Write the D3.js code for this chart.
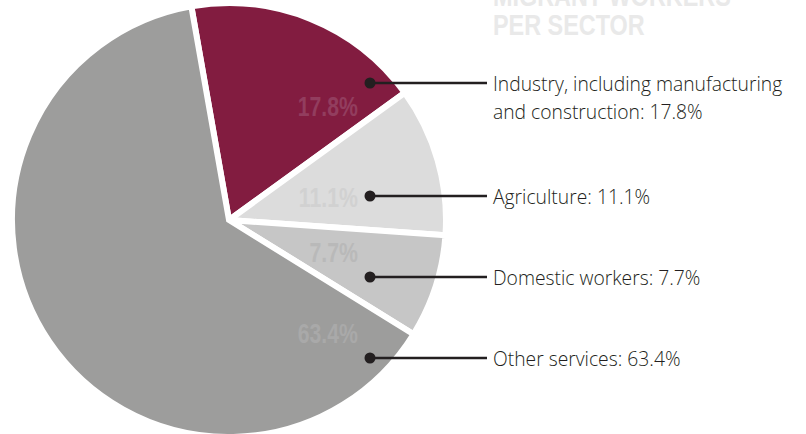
<!DOCTYPE html>
<html>
<head>
<meta charset="utf-8">
<script src="https://cdn.jsdelivr.net/npm/d3@7"></script>
<style>
  body { margin: 0; background: #fff; }
  svg { display: block; }
</style>
</head>
<body>
<div id="chart"></div>
<script>
// data
const sectors = ["Industry, including manufacturing|and construction", "Agriculture", "Domestic workers", "Other services"];
const shares = [17.8, 11.1, 7.7, 63.4];
const sliceColors = ["#821c40", "#dcdcdc", "#c6c6c6", "#9d9d9c"];
const innerColors = ["#923d5e", "#d1d1d1", "#b9b9b9", "#a9a9a9"];
const titleLines = ["MIGRANT WORKERS", "PER SECTOR"];

const width = 806, height = 434;
const cx = 229, cy = 220, radius = 217;
const labelYs = [83, 196, 277, 358];
const innerYs = [116, 207, 262, 343];
const condensed = "'Liberation Sans', 'Arial', sans-serif";

const svg = d3.select("#chart").append("svg")
    .attr("width", width)
    .attr("height", height);

const data = sectors.map((s, i) => ({sector: s, value: shares[i], index: i}));

const pie = d3.pie()
    .sort(null)
    .value(d => d.value)
    .startAngle(-10 * Math.PI / 180)
    .endAngle(350 * Math.PI / 180);

const arc = d3.arc().innerRadius(0).outerRadius(radius);

const pieG = svg.append("g")
    .attr("class", "pieG")
    .attr("transform", "translate(" + cx + "," + cy + ")");

pieG.selectAll(".slice")
    .data(pie(data))
    .join("path")
    .attr("class", "slice")
    .attr("d", arc)
    .attr("fill", d => sliceColors[d.index])
    .attr("stroke", "#fff")
    .attr("stroke-width", 6)
    .attr("stroke-linejoin", "miter");

// title (pale, partly cut off at the top) - squeezed to look condensed
svg.append("g")
    .attr("transform", "translate(493,0) scale(0.78,1)")
    .selectAll("text")
    .data(titleLines)
    .join("text")
    .attr("x", 0)
    .attr("y", (d, i) => 6 + i * 29)
    .attr("font-family", condensed)
    .attr("font-weight", "bold")
    .attr("font-size", 30)
    .attr("fill", "#e9e9e9")
    .text(d => d);

// big percentages inside the slices
svg.append("g").selectAll("g")
    .data(data)
    .join("g")
    .attr("transform", (d, i) => "translate(358," + innerYs[i] + ") scale(0.76,1)")
    .append("text")
    .attr("text-anchor", "end")
    .attr("font-family", condensed)
    .attr("font-weight", "bold")
    .attr("font-size", 28)
    .attr("fill", d => innerColors[d.index])
    .text(d => d.value.toFixed(1) + "%");

// leaders
const leaderG = svg.append("g").selectAll("g")
    .data(data)
    .join("g")
    .attr("transform", (d, i) => "translate(0," + labelYs[i] + ")");

leaderG.append("line")
    .attr("x1", 370).attr("x2", 487)
    .attr("y1", 0).attr("y2", 0)
    .attr("stroke", "#231f20")
    .attr("stroke-width", 2.5);

leaderG.append("circle")
    .attr("cx", 370).attr("cy", 0)
    .attr("r", 5.5)
    .attr("fill", "#231f20");

leaderG.append("text")
    .attr("x", 493)
    .attr("y", 7.5)
    .attr("font-family", "'Open Sans', sans-serif")
    .attr("font-weight", 300)
    .attr("font-size", 19.3)
    .attr("fill", "#231f20")
    .each(function(d){
        const lines = d.sector.split("|");
        const t = d3.select(this);
        lines.forEach((ln, j) => {
            const txt = j === lines.length - 1 ? ln + ": " + d.value + "%" : ln;
            t.append("tspan")
                .attr("x", 493)
                .attr("dy", j === 0 ? 0 : 28.5)
                .text(txt);
        });
    });
</script>
</body>
</html>
